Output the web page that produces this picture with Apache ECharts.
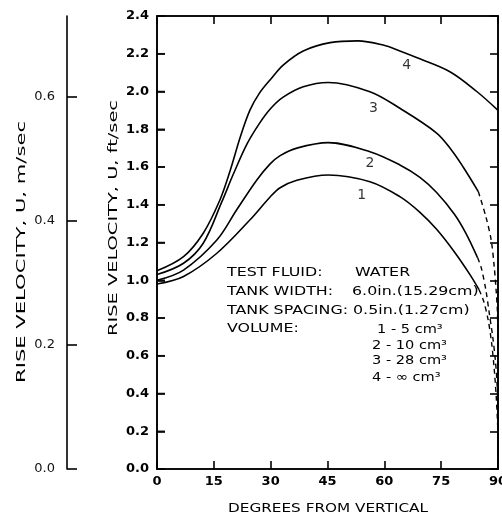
<!DOCTYPE html>
<html>
<head>
<meta charset="utf-8">
<script src="https://cdn.jsdelivr.net/npm/echarts@6/dist/echarts.min.js"></script>
<style>
html,body{margin:0;padding:0;background:#fff;}
#c{width:502px;height:519px;}
</style>
</head>
<body>
<div id="c"></div>
<script>
// ---------- data ----------
const xTickValues = [0, 15, 30, 45, 60, 75, 90];
const ftTickValues = [0.2, 0.4, 0.6, 0.8, 1.0, 1.2, 1.4, 1.6, 1.8, 2.0, 2.2];
const msTickValues = [0, 0.2, 0.4, 0.6];

// curve 1 (5 cm3)
const curve1X = [0, 7, 15.8, 24.5, 29.8, 32.5, 36.9, 45.2, 56.2, 64.1, 69.4, 73.8, 78.5, 82.6, 85.0];
const curve1Y = [0.98, 1.02, 1.143, 1.319, 1.44, 1.49, 1.53, 1.558, 1.522, 1.443, 1.36, 1.27, 1.15, 1.03, 0.95];
const curve1DashX = [85.0, 86.2, 87.4, 88.3, 89.0, 89.6, 90, 90];
const curve1DashY = [0.95, 0.89, 0.79, 0.67, 0.53, 0.36, 0.15, 0];

// curve 2 (10 cm3)
const curve2X = [0, 7, 15.8, 21.0, 26.3, 29.8, 32.5, 36.9, 45.2, 56.2, 64.1, 69.4, 73.8, 78.5, 81.5, 84.6];
const curve2Y = [1.00, 1.054, 1.213, 1.372, 1.53, 1.615, 1.66, 1.70, 1.729, 1.681, 1.611, 1.545, 1.465, 1.35, 1.25, 1.12];
const curve2DashX = [84.6, 85.6, 86.8, 87.7, 88.6, 89.3, 89.7, 90, 90];
const curve2DashY = [1.12, 1.065, 0.948, 0.825, 0.701, 0.577, 0.47, 0.3, 0];

// curve 3 (28 cm3)
const curve3X = [0, 7, 12.2, 17.1, 20.1, 23.7, 27.0, 30.0, 33.3, 38.6, 45.2, 56.2, 64.1, 73.8, 77.7, 80.8, 84.8];
const curve3Y = [1.03, 1.09, 1.196, 1.415, 1.56, 1.72, 1.83, 1.91, 1.97, 2.025, 2.048, 1.999, 1.911, 1.78, 1.69, 1.60, 1.47];
const curve3DashX = [84.8, 86.8, 88.2, 89.0, 89.5, 89.85, 90, 90];
const curve3DashY = [1.47, 1.337, 1.213, 1.072, 0.948, 0.83, 0.6, 0];

// curve 4 (infinite volume)
const curve4X = [0, 7, 12.2, 16.6, 19.3, 22.0, 24.5, 27.0, 30.0, 33.3, 38.6, 45.7, 53.0, 59.7, 64.1, 68.5, 77.3, 84.4, 90];
const curve4Y = [1.05, 1.125, 1.249, 1.425, 1.58, 1.76, 1.90, 1.99, 2.065, 2.14, 2.215, 2.259, 2.268, 2.246, 2.215, 2.18, 2.105, 2.0, 1.9];

// curve number labels
const curveLabelX = [54.0, 56.2, 57.1, 65.9];
const curveLabelY = [1.452, 1.62, 1.911, 2.14];
const curveLabelText = ['1', '2', '3', '4'];

// annotation texts
const noteLabels = ['TEST FLUID:', 'TANK WIDTH:', 'TANK SPACING:', 'VOLUME:'];
const noteValues = ['WATER', '6.0in.(15.29cm)', '0.5in.(1.27cm)'];
const volumeLines = ['1 - 5 cm³', '2 - 10 cm³', '3 - 28 cm³', '4 - ∞ cm³'];
const xTitle = 'DEGREES FROM VERTICAL';
const yTitleFt = 'RISE VELOCITY, U, ft/sec';
const yTitleMs = 'RISE VELOCITY, U, m/sec';

// ---------- chart ----------
const FONT = '"DejaVu Sans", sans-serif';
const pts = (xs, ys) => xs.map((x, i) => [x, ys[i]]);

const cv = document.createElement('canvas').getContext('2d');
function measure(t, size, weight) {
  cv.font = (weight || 'normal') + ' ' + size + 'px "DejaVu Sans"';
  return cv.measureText(t).width;
}

const GRID_L = 157, GRID_R = 4;
const chart = echarts.init(document.getElementById('c'), null, {renderer: 'canvas'});

const axisLineStyle = {color: '#000', width: 1.6};
const lineStyleSolid = {color: '#000', width: 1.6};
const lineStyleDash = {color: '#000', width: 1.4, type: [5, 4]};

function solid(xs, ys) {
  return {type: 'line', data: pts(xs, ys), smooth: 0.35, symbol: 'none',
    lineStyle: lineStyleSolid, xAxisIndex: 0, yAxisIndex: 0, silent: true, z: 3};
}
function dashed(xs, ys) {
  return {type: 'line', data: pts(xs, ys), smooth: 0.3, symbol: 'none',
    lineStyle: lineStyleDash, xAxisIndex: 0, yAxisIndex: 0, silent: true, z: 3};
}

function textEl(txt, x, y, size, opts) {
  opts = opts || {};
  return {
    type: 'text', x: x, y: y, silent: true,
    rotation: opts.rotation || 0,
    scaleX: opts.scaleX || 1,
    style: {
      text: txt, fill: '#000', font: (opts.weight || 'normal') + ' ' + size + 'px ' + FONT,
      align: opts.align || 'left', verticalAlign: 'middle'
    }
  };
}
function fitText(txt, x, y, size, targetLen, opts) {
  opts = opts || {};
  const w = measure(txt, size, opts.weight);
  opts.scaleX = targetLen / w;
  return textEl(txt, x, y, size, opts);
}

const graphics = [];
// axis titles
graphics.push(fitText(yTitleFt, 114, 218, 13, 236, {align: 'center', rotation: Math.PI / 2}));
graphics.push(fitText(yTitleMs, 22, 252, 13, 262, {align: 'center', rotation: Math.PI / 2}));
graphics.push(fitText(xTitle, 328, 509, 13, 200, {align: 'center'}));

// annotation block
const noteSx = 1.22;
const noteY = [273, 292, 311, 329];
const noteLeft = 227;
noteLabels.forEach((t, i) => graphics.push(textEl(t, noteLeft, noteY[i], 13, {scaleX: noteSx})));
const valueLeft = [355, 352, 353];
noteValues.forEach((t, i) => graphics.push(textEl(t, valueLeft[i], noteY[i], 13, {scaleX: noteSx})));
const volLeft = [377, 372, 372, 372];
const volY = [330, 346, 361, 378];
volumeLines.forEach((t, i) => graphics.push(textEl(t, volLeft[i], volY[i], 13, {scaleX: 1.12})));

const option = {
  animation: false,
  backgroundColor: '#fff',
  grid: [
    {left: GRID_L, right: GRID_R, top: 16, bottom: 50, containLabel: false, outerBoundsMode: 'none',
     show: true, borderColor: '#000', borderWidth: 1.6, backgroundColor: 'transparent'},
    {left: 67, width: 2, top: 16, bottom: 50, containLabel: false, outerBoundsMode: 'none'}
  ],
  xAxis: [
    {
      gridIndex: 0, type: 'value', min: 0, max: 90, interval: 15, position: 'bottom',
      axisLine: {onZero: false, lineStyle: axisLineStyle},
      axisTick: {inside: true, length: 8, lineStyle: axisLineStyle},
      axisLabel: {color: '#000', fontSize: 13, fontWeight: 'bold', fontFamily: FONT, margin: 6},
      splitLine: {show: false}
    },
    {
      gridIndex: 0, type: 'value', min: 0, max: 90, interval: 15, position: 'top',
      axisLine: {onZero: false, lineStyle: axisLineStyle},
      axisTick: {inside: true, length: 8, lineStyle: axisLineStyle},
      axisLabel: {show: false},
      splitLine: {show: false}
    },
    {
      gridIndex: 1, type: 'value', min: 0, max: 1, show: false
    }
  ],
  yAxis: [
    {
      gridIndex: 0, type: 'value', min: 0, max: 2.4, interval: 0.2, position: 'left',
      axisLine: {show: true, onZero: false, lineStyle: axisLineStyle},
      axisTick: {show: true, inside: true, length: 8, lineStyle: axisLineStyle},
      axisLabel: {color: '#000', fontSize: 13, fontWeight: 'bold', fontFamily: FONT, margin: 8,
        formatter: v => v.toFixed(1)},
      splitLine: {show: false}
    },
    {
      gridIndex: 0, type: 'value', min: 0, max: 2.4, interval: 0.2, position: 'right',
      axisLine: {show: true, onZero: false, lineStyle: axisLineStyle},
      axisTick: {show: true, inside: true, length: 8, lineStyle: axisLineStyle},
      axisLabel: {show: false},
      splitLine: {show: false}
    },
    {
      gridIndex: 1, type: 'value', min: 0, max: 0.73, position: 'left',
      axisLine: {show: true, onZero: false, lineStyle: axisLineStyle},
      axisTick: {show: true, inside: true, length: 10, lineStyle: axisLineStyle, customValues: msTickValues},
      axisLabel: {color: '#111', fontSize: 13, fontFamily: FONT, margin: 12,
        customValues: msTickValues, formatter: v => v.toFixed(1)},
      splitLine: {show: false}
    }
  ],
  series: [
    solid(curve1X, curve1Y), dashed(curve1DashX, curve1DashY),
    solid(curve2X, curve2Y), dashed(curve2DashX, curve2DashY),
    solid(curve3X, curve3Y), dashed(curve3DashX, curve3DashY),
    solid(curve4X, curve4Y),
    {
      // inner tick marks on the left edge of the frame, at the ft/sec tick values
      type: 'scatter', xAxisIndex: 0, yAxisIndex: 0, silent: true, clip: false, z: 4,
      symbol: 'rect', symbolSize: [8, 1.6], symbolOffset: [4, 0],
      itemStyle: {color: '#000'},
      data: ftTickValues.map(v => [0, v])
    },
    {
      type: 'scatter', xAxisIndex: 0, yAxisIndex: 0, symbolSize: 0, silent: true,
      data: curveLabelX.map((x, i) => ({value: [x, curveLabelY[i]], name: curveLabelText[i]})),
      label: {show: true, position: 'inside', formatter: p => p.name, color: '#000',
        fontSize: 14, fontFamily: FONT}
    }
  ],
  graphic: graphics
};
chart.setOption(option);
</script>
</body>
</html>
